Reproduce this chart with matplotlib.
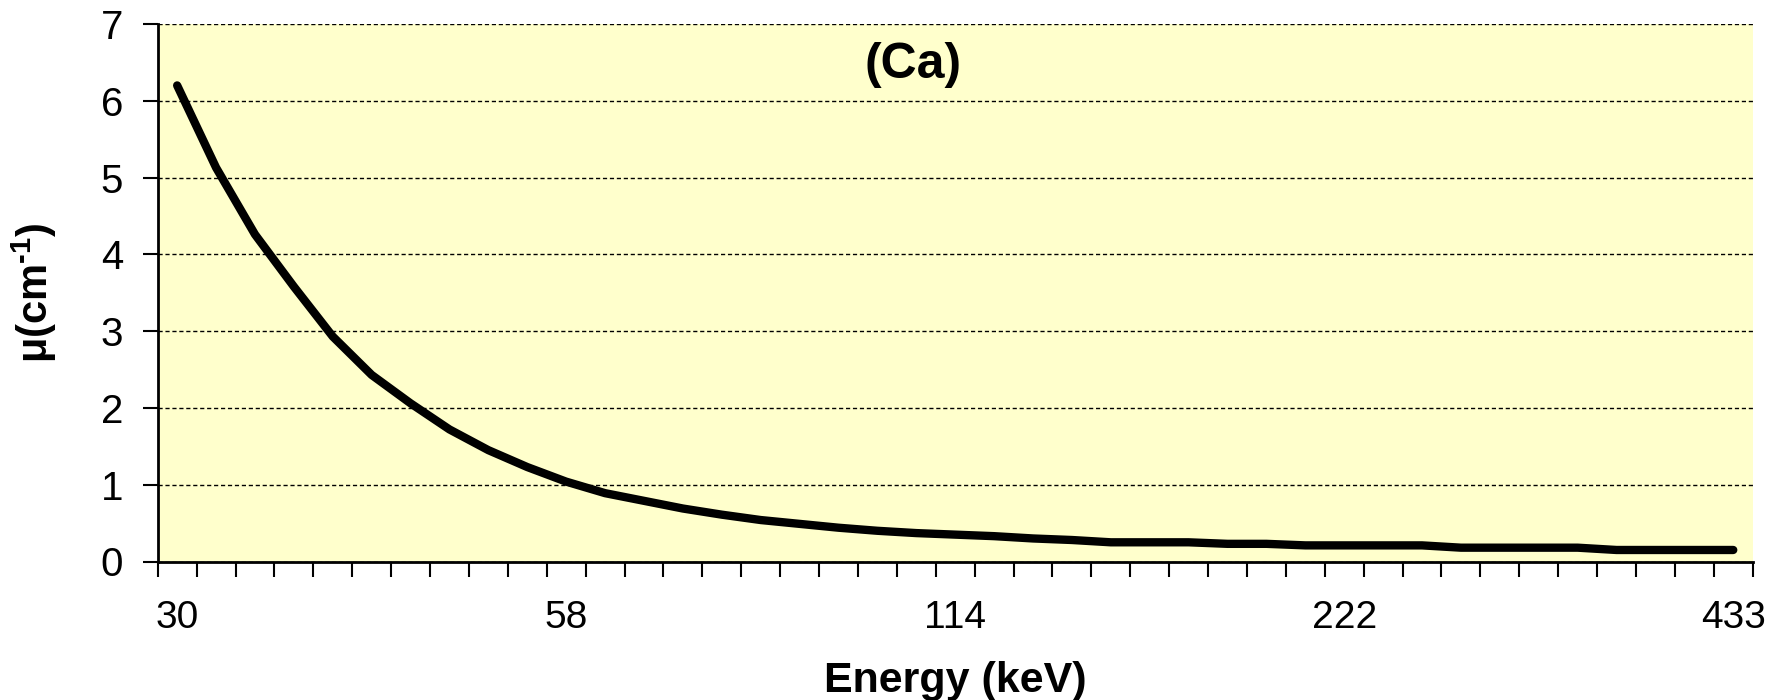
import numpy as np
import matplotlib
matplotlib.use("Agg")
import matplotlib.pyplot as plt
from matplotlib.ticker import FixedLocator, NullFormatter

plt.rcParams['font.family'] = ['Liberation Sans', 'DejaVu Sans']
plt.rcParams['mathtext.fontset'] = 'custom'
plt.rcParams['mathtext.rm'] = 'Liberation Sans:bold'
plt.rcParams['mathtext.bf'] = 'Liberation Sans:bold'

# Photon energies (keV), one per category on the x axis
energy_kev = [30, 32, 34, 37, 39, 42, 45, 48, 51, 54,
              58, 62, 66, 71, 76, 81, 86, 92, 99, 106,
              114, 122, 130, 139, 149, 159, 170, 182, 195, 208,
              222, 238, 254, 272, 291, 311, 332, 355, 380, 405,
              433]

# Linear attenuation coefficient of Ca (cm^-1)
mu_ca = [6.20, 5.13, 4.26, 3.58, 2.93, 2.43, 2.06, 1.72, 1.45, 1.23,
         1.04, 0.89, 0.79, 0.69, 0.61, 0.54, 0.49, 0.44, 0.40, 0.37,
         0.35, 0.33, 0.30, 0.28, 0.25, 0.25, 0.25, 0.23, 0.23, 0.21,
         0.21, 0.21, 0.21, 0.18, 0.18, 0.18, 0.18, 0.15, 0.15, 0.15,
         0.15]

label_every = 10
y_ticks = [0, 1, 2, 3, 4, 5, 6, 7]

W, H = 1789, 700
fig = plt.figure(figsize=(W / 100, H / 100), dpi=100)
left, right, top, bottom = 157.7, 1752.7, 24.0, 561.5
ax = fig.add_axes([left / W, 1 - bottom / H, (right - left) / W,
                   (bottom - top) / H])
ax.set_facecolor('#FFFFCC')

idx = np.arange(len(energy_kev))
ax.plot(idx, mu_ca, color='black', lw=6, solid_capstyle='round',
        solid_joinstyle='round', zorder=3)

ax.set_xlim(-0.5, len(energy_kev) - 0.5)
ax.set_ylim(0, 7)

# category labels every tenth point, tick marks between categories
major = idx[::label_every]
ax.set_xticks(major)
ax.set_xticklabels([str(energy_kev[i]) for i in major])
ax.xaxis.set_minor_locator(FixedLocator(np.arange(-0.5, len(energy_kev), 1.0)))
ax.xaxis.set_minor_formatter(NullFormatter())
ax.tick_params(axis='x', which='major', length=0, pad=28, labelsize=28)
ax.tick_params(axis='x', which='minor', length=11, width=1.5, direction='out')

ax.set_yticks(y_ticks)
ax.tick_params(axis='y', length=11, width=1.5, direction='out', pad=14,
               labelsize=29)

ax.grid(axis='y', color='black', linestyle=(0, (3, 2)), linewidth=1.0)
ax.set_axisbelow(True)

for s in ['top', 'right']:
    ax.spines[s].set_visible(False)
for s in ['left', 'bottom']:
    ax.spines[s].set_linewidth(2.0)

cx = (left + right) / 2 / W
fig.text(cx, 1 - 681 / H, 'Energy (keV)', ha='center', va='center',
         fontsize=31, fontweight='bold')
fig.text(34 / W, 1 - 293 / H, r'μ(cm$^{\text{-}1}$)', ha='center',
         va='center', rotation=90, fontsize=30, fontweight='bold')

ax.text(0.4735, 0.924, '(Ca)', transform=ax.transAxes, ha='center',
        va='center', fontsize=36, fontweight='bold')

fig.savefig('out.png', dpi=100)
